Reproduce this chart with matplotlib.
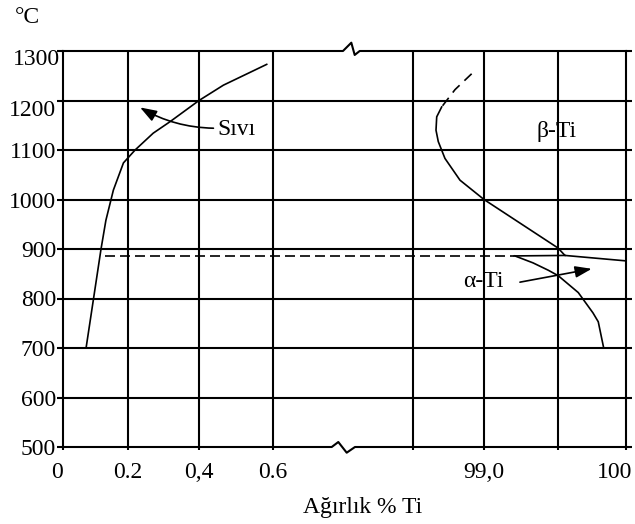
import numpy as np
import matplotlib.pyplot as plt
from matplotlib.transforms import ScaledTranslation

plt.rcParams['font.family'] = ['Liberation Serif', 'DejaVu Serif']
plt.rcParams['font.size'] = 17

# temperature grid and labels
y_ticks = [500, 600, 700, 800, 900, 1000, 1100, 1200, 1300]
# weight % Ti, broken axis: 0-0.8 on the left, 98-100 on the right
x_ticks = [0, 0.2, 0.4, 0.6, 98.5, 99.0, 99.5, 100]
x_labels = ['0', '0.2', '0,4', '0.6', '', '99,0', '', '100']

# liquid (Sıvı) boundary, low Ti side
liq_w = [0.071, 0.117, 0.132, 0.155, 0.186, 0.220, 0.271, 0.318, 0.40, 0.466, 0.583]
liq_T = [700, 900, 958, 1019, 1074, 1100, 1134, 1157, 1200, 1231, 1273]

# beta-Ti boundary (dashed top part, then solid)
beta_dash_w = [98.913, 98.796, 98.702]
beta_dash_T = [1254, 1222, 1187]
beta_w = [98.702, 98.667, 98.662, 98.678, 98.725, 98.831, 99.0, 99.5, 99.551, 100.0]
beta_T = [1187, 1167, 1140, 1117, 1083, 1039, 1000, 902, 887, 876]

# alpha-Ti boundary
alpha_w = [99.209, 99.331, 99.435, 99.502, 99.649, 99.757, 99.796, 99.836]
alpha_T = [886, 872, 857, 846, 812, 771, 753, 700]

# eutectoid horizontal
eut_dash_w = [0.129, 99.204]
eut_dash_T = [886, 886]
eut_w = [99.204, 99.551]
eut_T = [886, 887]

# broken axis: piecewise-linear mapping of wt% to a drawing coordinate
knots_w = [0, 0.2, 0.4, 0.6, 0.8, 98.0, 98.5, 99.0, 99.5, 100]
knots_u = [0, 65, 136, 210, 281, 281.001, 350, 421, 495, 563]


def fwd(w):
    return np.interp(np.asarray(w, dtype=float), knots_w, knots_u)


def inv(u):
    return np.interp(np.asarray(u, dtype=float), knots_u, knots_w)


fig = plt.figure(figsize=(6.35, 5.24), dpi=100)
ax = fig.add_axes([63 / 635, 1 - 447 / 524, 563 / 635, 396 / 524])
ax.set_xscale('function', functions=(fwd, inv))
ax.set_xlim(0, 100)
ax.set_ylim(500, 1300)

lw_grid = 1.5
for t in y_ticks[1:-1]:
    ax.axhline(t, color='black', lw=lw_grid, zorder=1)
for w in x_ticks[1:-1]:
    ax.axvline(w, color='black', lw=lw_grid, zorder=1)

ax.set_xticks(x_ticks)
ax.set_xticklabels(x_labels)
ax.set_yticks(y_ticks)
ax.minorticks_off()
ax.tick_params(axis='y', direction='out', length=4, width=lw_grid, pad=1)
ax.tick_params(axis='y', right=True)
ax.tick_params(axis='x', direction='out', length=2.5, width=lw_grid, pad=8)

for s in ['left', 'right']:
    ax.spines[s].set_linewidth(lw_grid)
for s in ['top', 'bottom']:
    ax.spines[s].set_visible(False)

# top and bottom borders with break marks
top_x = [0, 0.4973, 0.5121, 0.5181, 0.5270, 1]
top_y = [1, 1, 1.021, 0.990, 1, 1]
bot_x = [0, 0.4773, 0.4890, 0.5039, 0.5186, 1]
bot_y = [0, 0, 0.0126, -0.0144, 0, 0]
ax.plot(top_x, top_y, color='black', lw=lw_grid, transform=ax.transAxes, clip_on=False)
ax.plot(bot_x, bot_y, color='black', lw=lw_grid, transform=ax.transAxes, clip_on=False)

lw_c = 1.2
ax.plot(liq_w, liq_T, color='black', lw=lw_c, zorder=3)
ax.plot(beta_w, beta_T, color='black', lw=lw_c, zorder=3)
ax.plot(beta_dash_w, beta_dash_T, color='black', lw=lw_c, ls=(0, (6, 4)), zorder=3)
ax.plot(alpha_w, alpha_T, color='black', lw=lw_c, zorder=3)
ax.plot(eut_w, eut_T, color='black', lw=lw_c, zorder=3)
ax.plot(eut_dash_w, eut_dash_T, color='black', lw=lw_c, ls=(0, (6, 3)), zorder=3)

ax.text(0.4486, 1130, 'Sıvı', ha='left', va='baseline')
ax.text(99.356, 1126, 'β-Ti', ha='left', va='baseline')
ax.text(98.852, 824, 'α-Ti', ha='left', va='baseline')

arrow = dict(arrowstyle='-|>,head_length=1.0,head_width=0.35', color='black',
             lw=1.2, mutation_scale=10, shrinkA=0, shrinkB=0)
ax.annotate('', xy=(0.234, 1186), xytext=(0.439, 1144),
            arrowprops=dict(arrow, connectionstyle='arc3,rad=-0.13'))
ax.annotate('', xy=(99.748, 860), xytext=(99.243, 833), arrowprops=arrow)

fig.text(15 / 635, 1 - 23 / 524, '°C', ha='left', va='baseline')
fig.text(363 / 635, 1 - 513 / 524, 'Ağırlık % Ti', ha='center', va='baseline')


def nudge(label, dx, dy):
    label.set_transform(label.get_transform()
                        + ScaledTranslation(dx / 100, dy / 100, fig.dpi_scale_trans))


xl = ax.get_xticklabels()
nudge(xl[0], -6, 0)
nudge(xl[-1], -11, 0)
yl = ax.get_yticklabels()
nudge(yl[-1], 4, -6)
nudge(yl[-2], 0, -7)

fig.savefig('out.png', dpi=100)
